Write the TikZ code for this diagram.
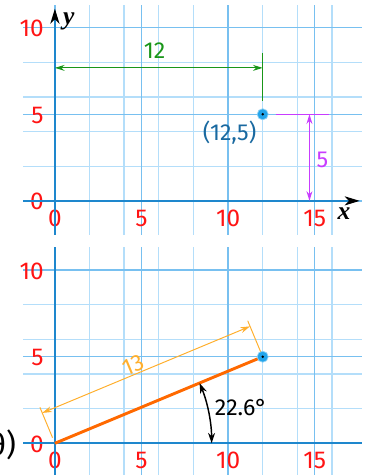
\documentclass[tikz,border=0pt]{standalone}
\usepackage{fontspec}
\setmainfont{Fira Sans}
\newfontfamily\axisfont{Liberation Serif}
\usetikzlibrary{arrows.meta}
\definecolor{gridminor}{RGB}{180,222,250}
\definecolor{gridmajor}{RGB}{120,192,240}
\definecolor{axisblue}{RGB}{30,135,205}
\definecolor{numred}{RGB}{255,20,20}
\definecolor{ptblue}{RGB}{25,105,160}
\definecolor{dotblue}{RGB}{35,165,235}
\definecolor{dimgreen}{RGB}{25,150,25}
\definecolor{dimpurple}{RGB}{200,60,255}
\definecolor{lineorange}{RGB}{255,105,0}
\definecolor{dimorange}{RGB}{255,175,45}

\begin{document}
\begin{tikzpicture}[x=0.5cm, y=0.5cm,
  num/.style={text=numred, font=\fontsize{20}{20}\selectfont},
  lbl/.style={font=\fontsize{19}{19}\selectfont},
  axlabel/.style={font=\fontsize{21}{21}\selectfont\axisfont\bfseries\itshape},
  axis/.style={axisblue, line width=1.8pt},
  dim/.style={line width=0.8pt, {Stealth[length=2.8mm,width=1.7mm]}-{Stealth[length=2.8mm,width=1.7mm]}},
  ptdot/.style={circle, fill=dotblue, draw=dotblue!50, line width=0.6pt, minimum size=3.2mm, inner sep=0pt}]
\useasboundingbox (-3.17,-15.83) rectangle (18.16,11.6);
% graph paper, labels
\foreach \dy in {0,-14} {
  \begin{scope}[shift={(0,\dy)}]
    \draw[gridminor, line width=1.1pt] (-1.84,-1.95) grid (17.75,11.33);
    \draw[gridmajor, line width=1.1pt, step=5] (-1.84,-1.95) grid (17.75,11.33);
    \foreach \v in {0,5,10,15}
      \node[num] at (\v,-1) {\v};
    \foreach \v in {0,5,10}
      \node[num, anchor=east] at (-0.4,\v-0.05) {\v};
  \end{scope}
}
% top graph: axes
\draw[axis, -{Stealth[black,length=4.3mm,width=2.6mm,inset=1.2mm]}] (-1.84,0) -- (17.6,0);
\draw[axis, -{Stealth[black,length=4.3mm,width=2.6mm,inset=1.2mm]}] (0,-1.95) -- (0,11.1);
\node[axlabel] (xlab) at (16.7,-0.75) {x};
\node[axlabel] (ylab) at (0.8,10.35) {y};
% distance along x
\draw[dimgreen, dim] (0,7.68) -- (12,7.68);
\draw[dimgreen, line width=0.8pt] (12,8.55) -- (12,5.78);
\node[lbl, text=dimgreen] (dx) at (5.76,8.66) {12};
% distance along y
\draw[dimpurple, line width=1pt] (12.75,5) -- (15.8,5);
\draw[dimpurple, dim] (14.7,0) -- (14.7,5);
\node[lbl, text=dimpurple] (dy) at (15.45,2.38) {5};
% the point
\node[ptdot] (P) at (12,5) {};
\fill[black] (P) circle (0.08);
\node[lbl, text=ptblue] (plab) at (10.09,3.93) {(12,5)};

% bottom graph: polar form
\begin{scope}[shift={(0,-14)}]
  \draw[axis] (-1.84,0) -- (17.75,0);
  \draw[axis] (0,-1.95) -- (0,11.33);
  \coordinate (O) at (0,0);
  \draw[lineorange, line width=2.4pt] (O) -- (12,5);
  % length
  \draw[dimorange, line width=0.8pt] (-0.135,0.323) -- (-0.865,2.077);
  \draw[dimorange, line width=0.8pt] (12,5) -- (11.135,7.077);
  \draw[dimorange, dim] (-0.731,1.754) -- (11.269,6.754);
  \node[lbl, text=dimorange, rotate=22.6] (r) at (4.55,4.5) {13};
  % angle
  \draw[line width=1.2pt, {Stealth[length=3mm,width=2mm]}-{Stealth[length=3mm,width=2mm]}] (9.05,0) arc[start angle=0, end angle=22.6, radius=9.05];
  \node[lbl] (ang) at (10.75,2.04) {22.6°};
  \node[ptdot] (Q) at (12,5) {};
  \fill[black] (Q) circle (0.08);
  \node[font=\fontsize{25}{25}\selectfont, anchor=east] (th) at (-2.0,-0.1) {θ)};
\end{scope}
\end{tikzpicture}
\end{document}
